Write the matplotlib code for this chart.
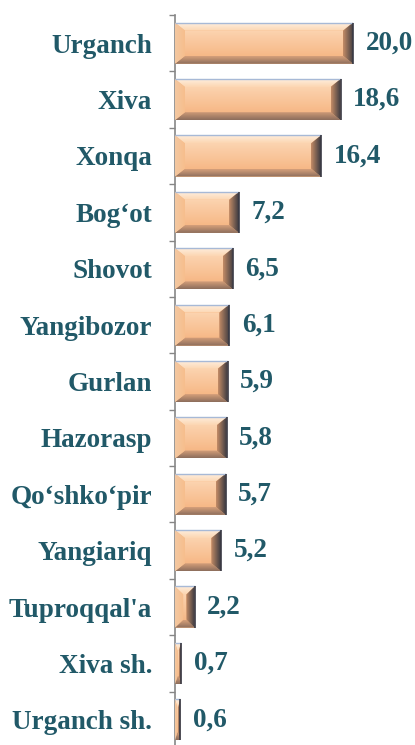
import numpy as np
import matplotlib
matplotlib.use("Agg")
import matplotlib.pyplot as plt
from matplotlib.patches import Polygon
from matplotlib.colors import to_rgb

categories = ["Urganch", "Xiva", "Xonqa", "Bog\u2018ot", "Shovot", "Yangibozor", "Gurlan",
              "Hazorasp", "Qo\u2018shko\u2018pir", "Yangiariq", "Tuproqqal'a", "Xiva sh.", "Urganch sh."]
values = [20.0, 18.6, 16.4, 7.2, 6.5, 6.1, 5.9, 5.8, 5.7, 5.2, 2.2, 0.7, 0.6]

TEXT = "#215968"
FONT = "Liberation Serif"
FS = 19.5

fig = plt.figure(figsize=(4.15, 7.45), dpi=100)
ax = fig.add_axes([175/415, -3/745, 240/415, 733/745])

n = len(categories)
pos = np.arange(n)[::-1]
bh = 0.73
bars = ax.barh(pos, values, height=bh, color="#F9BF8F", edgecolor="none", zorder=2)

xmax = 240/8.9
ax.set_xlim(0, xmax)
ax.set_ylim(-0.5, n - 0.5)

px_x = xmax / 240.0          # data units per pixel (x)
px_y = n / 733.0             # data units per pixel (y)

def grad(c1, c2, vertical=True, N=64):
    a = np.array(to_rgb(c1)); b = np.array(to_rgb(c2))
    t = np.linspace(0, 1, N)[:, None]
    g = a * (1 - t) + b * t
    if vertical:
        return g[:, None, :]
    return g[None, :, :]

def face(poly_pts, img, x0, x1, y0, y1):
    poly = Polygon(poly_pts, closed=True, facecolor="none", edgecolor="none", zorder=3)
    ax.add_patch(poly)
    im = ax.imshow(img, extent=(x0, x1, y0, y1), origin="upper", aspect="auto",
                   interpolation="bilinear", zorder=3)
    im.set_clip_path(poly)

for b in bars:
    x0 = b.get_x(); w = b.get_width(); x1 = x0 + w
    yb = b.get_y(); yt = yb + b.get_height()
    bx = min(10 * px_x, w * 0.42)
    by = 8 * px_y
    # center face
    face([(x0+bx, yt-by), (x1-bx, yt-by), (x1-bx, yb+by), (x0+bx, yb+by)],
         grad("#FDDCBD", "#F5B07A"), x0, x1, yb, yt)
    # top face
    face([(x0, yt), (x1, yt), (x1-bx, yt-by), (x0+bx, yt-by)],
         grad("#FEEEDD", "#FCD6B2"), x0, x1, yt-by, yt)
    # bottom face
    face([(x0, yb), (x1, yb), (x1-bx, yb+by), (x0+bx, yb+by)],
         grad("#D6A07A", "#8C6D5C"), x0, x1, yb, yb+by)
    # left face
    face([(x0, yt), (x0+bx, yt-by), (x0+bx, yb+by), (x0, yb)],
         grad("#F3C8A2", "#F7BE8C", vertical=False), x0, x0+bx, yb, yt)
    # right face
    face([(x1, yt), (x1, yb), (x1-bx, yb+by), (x1-bx, yt-by)],
         grad("#C48C66", "#3A3940", vertical=False), x1-bx, x1, yb, yt)
    # edge lines
    ax.plot([x0, x1], [yt, yt], color="#A7B9D6", lw=1.0, zorder=4, solid_capstyle="butt")
    ax.plot([x1, x1], [yb, yt], color="#3A3A44", lw=1.2, zorder=4, solid_capstyle="butt")

for p, v in zip(pos, values):
    ax.annotate(f"{v:.1f}".replace(".", ","), xy=(v, p), xytext=(9.0, 0),
                textcoords="offset points", va="center", ha="left",
                fontsize=FS, fontweight="bold", family=FONT, color=TEXT, zorder=5)

ax.set_yticks(pos)
ax.set_yticklabels(categories, fontsize=FS, fontweight="bold", family=FONT, color=TEXT)
ax.tick_params(axis="y", which="major", length=0, pad=16.5)
ax.set_yticks(np.arange(n + 1) - 0.5, minor=True)
ax.tick_params(axis="y", which="minor", length=4.5, width=1, color="#868686")
ax.set_xticks([])

for s in ["top", "right", "bottom"]:
    ax.spines[s].set_visible(False)
ax.spines["left"].set_color("#868686")
ax.spines["left"].set_linewidth(1.2)
ax.set_facecolor("none")

fig.savefig("out.png", dpi=100)
